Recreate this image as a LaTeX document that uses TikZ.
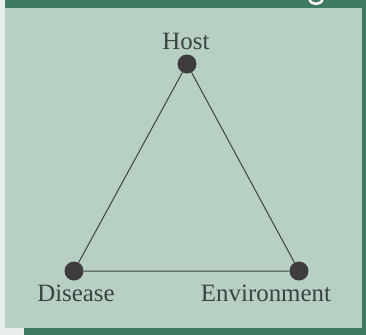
\documentclass[tikz,border=0pt]{standalone}
\usepackage{fontspec}
\setmainfont{Liberation Serif}
\usetikzlibrary{positioning}
\definecolor{epiband}{RGB}{62,122,98}
\definecolor{epipanel}{RGB}{184,207,195}
\definecolor{epipaper}{RGB}{232,238,235}
\definecolor{epiink}{RGB}{58,68,64}
\definecolor{epidot}{RGB}{62,60,60}

\begin{document}
\begin{tikzpicture}[x=1bp, y=-1bp, every node/.style={font=\fontsize{25}{28}\selectfont}]
  \tikzset{
    vertex/.style={circle, fill=epidot, inner sep=0pt, minimum size=19bp},
    tag/.style={text=epiink, anchor=base, inner sep=0pt},
    edge/.style={draw=epiink, line width=1bp}
  }
  \useasboundingbox (0,0) rectangle (366,335);

  % --- frame ---
  \fill[epipaper] (0,0) rectangle (366,335);
  \fill[epipanel] (5,8) rectangle (362,328);
  \begin{scope}
    \clip (5,0) rectangle (366,8);
    \fill[epiband] (5,0) rectangle (366,8);
    % tail of the cut-off heading
    \draw[white, line width=2.5bp] (309.5,-1) .. controls (310,5.5) and (322,5.5) .. (322.5,-1);
  \end{scope}
  \fill[epiband] (362,0) rectangle (366,335);
  \fill[epiband] (24,328) rectangle (366,335);

  % --- triangle ---
  \node[vertex] (host) at (187,64) {};
  \node[vertex] (disease) at (74,271) {};
  \node[vertex] (environment) at (299,271) {};
  \draw[edge] (host) -- (disease) -- (environment) -- (host);

  \node[tag] (hostlbl) at (186,49) {Host};
  \node[tag] (diseaselbl) at (76,301) {Disease};
  \node[tag] (environmentlbl) at (266,301) {Environment};
\end{tikzpicture}
\end{document}
